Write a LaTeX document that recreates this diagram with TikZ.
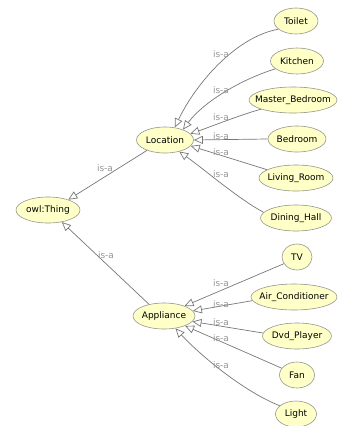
\documentclass[tikz,border=0pt]{standalone}
\usepackage{fontspec}
\setmainfont{DejaVu Sans}
\usetikzlibrary{arrows.meta,shapes.geometric}
\definecolor{nodefill}{RGB}{255,255,200}
\definecolor{nodeline}{RGB}{150,150,140}
\definecolor{edgecol}{RGB}{120,120,120}
\definecolor{labcol}{RGB}{150,150,150}
\tikzset{
  cls/.style={ellipse, draw=nodeline, fill=nodefill, line width=0.6pt, inner sep=0pt,
    minimum height=26pt, minimum width=#1, font=\fontsize{9}{10}\selectfont, text=black},
  isa/.style={draw=edgecol, line width=0.7pt, -{Triangle[open,length=9pt,width=8pt]}},
  lab/.style={text=labcol, font=\fontsize{9}{10}\selectfont, inner sep=0pt}
}
\newcommand{\zb}[1]{\makebox[0pt]{#1}}
\begin{document}
\begin{tikzpicture}[x=1pt,y=-1pt]
\useasboundingbox (0,0) rectangle (338,426);
\fill[white] (0,0) rectangle (338,426);
% nodes
\node[cls=64pt] (thing) at (48,210) {\zb{owl:Thing}};
\node[cls=57pt] (loc) at (165,140) {\zb{Location}};
\node[cls=62pt] (app) at (164,316) {\zb{Appliance}};
\node[cls=44pt] (toilet) at (296,21) {\zb{Toilet}};
\node[cls=53pt] (kitchen) at (297,61) {\zb{Kitchen}};
\node[cls=88pt] (master) at (293,100) {\zb{Master\_Bedroom}};
\node[cls=58pt] (bedroom) at (297,139) {\zb{Bedroom}};
\node[cls=74pt] (living) at (296,178) {\zb{Living\_Room}};
\node[cls=71pt] (dining) at (296,218) {\zb{Dining\_Hall}};
\node[cls=30pt] (tv) at (297,257) {\zb{TV}};
\node[cls=86pt] (air) at (294,297) {\zb{Air\_Conditioner}};
\node[cls=69pt] (dvd) at (297,336) {\zb{Dvd\_Player}};
\node[cls=35pt] (fan) at (297,375) {\zb{Fan}};
\node[cls=41pt] (light) at (296,414) {\zb{Light}};
% edges to Location
\draw[isa] (toilet.205) .. controls (235,37) and (195,85) .. (loc.52);
\draw[isa] (kitchen.200) .. controls (245,78) and (205,100) .. (loc.30);
\draw[isa] (master.196) .. controls (240,115) and (210,127) .. (loc.14);
\draw[isa] (bedroom.180) -- (loc.0);
\draw[isa] (living.164) -- (loc.-13);
\draw[isa] (dining.170) .. controls (240,200) and (205,170) .. (loc.-39);
% edges to Appliance
\draw[isa] (tv.207) -- (app.26);
\draw[isa] (air.185) -- (app.10);
\draw[isa] (dvd.175) -- (app.-11);
\draw[isa] (fan.156) -- (app.-25);
\draw[isa] (light.153) .. controls (240,390) and (195,350) .. (app.-47);
% edges to owl:Thing
\draw[isa] (loc.210) -- (thing.27);
\draw[isa] (app.142) -- (thing.-41);
% labels
\node[lab] (l1) at (221,54) {is-a};
\node[lab] (l2) at (221,90) {is-a};
\node[lab] (l3) at (221,117) {is-a};
\node[lab] (l4) at (221,136) {is-a};
\node[lab] (l5) at (221,152) {is-a};
\node[lab] (l6) at (221,174) {is-a};
\node[lab] (l7) at (105,168) {is-a};
\node[lab] (l8) at (106,255) {is-a};
\node[lab] (l9) at (221,283) {is-a};
\node[lab] (l10) at (221,304) {is-a};
\node[lab] (l11) at (221,322) {is-a};
\node[lab] (l12) at (221,338) {is-a};
\node[lab] (l13) at (221,365) {is-a};
\end{tikzpicture}
\end{document}
